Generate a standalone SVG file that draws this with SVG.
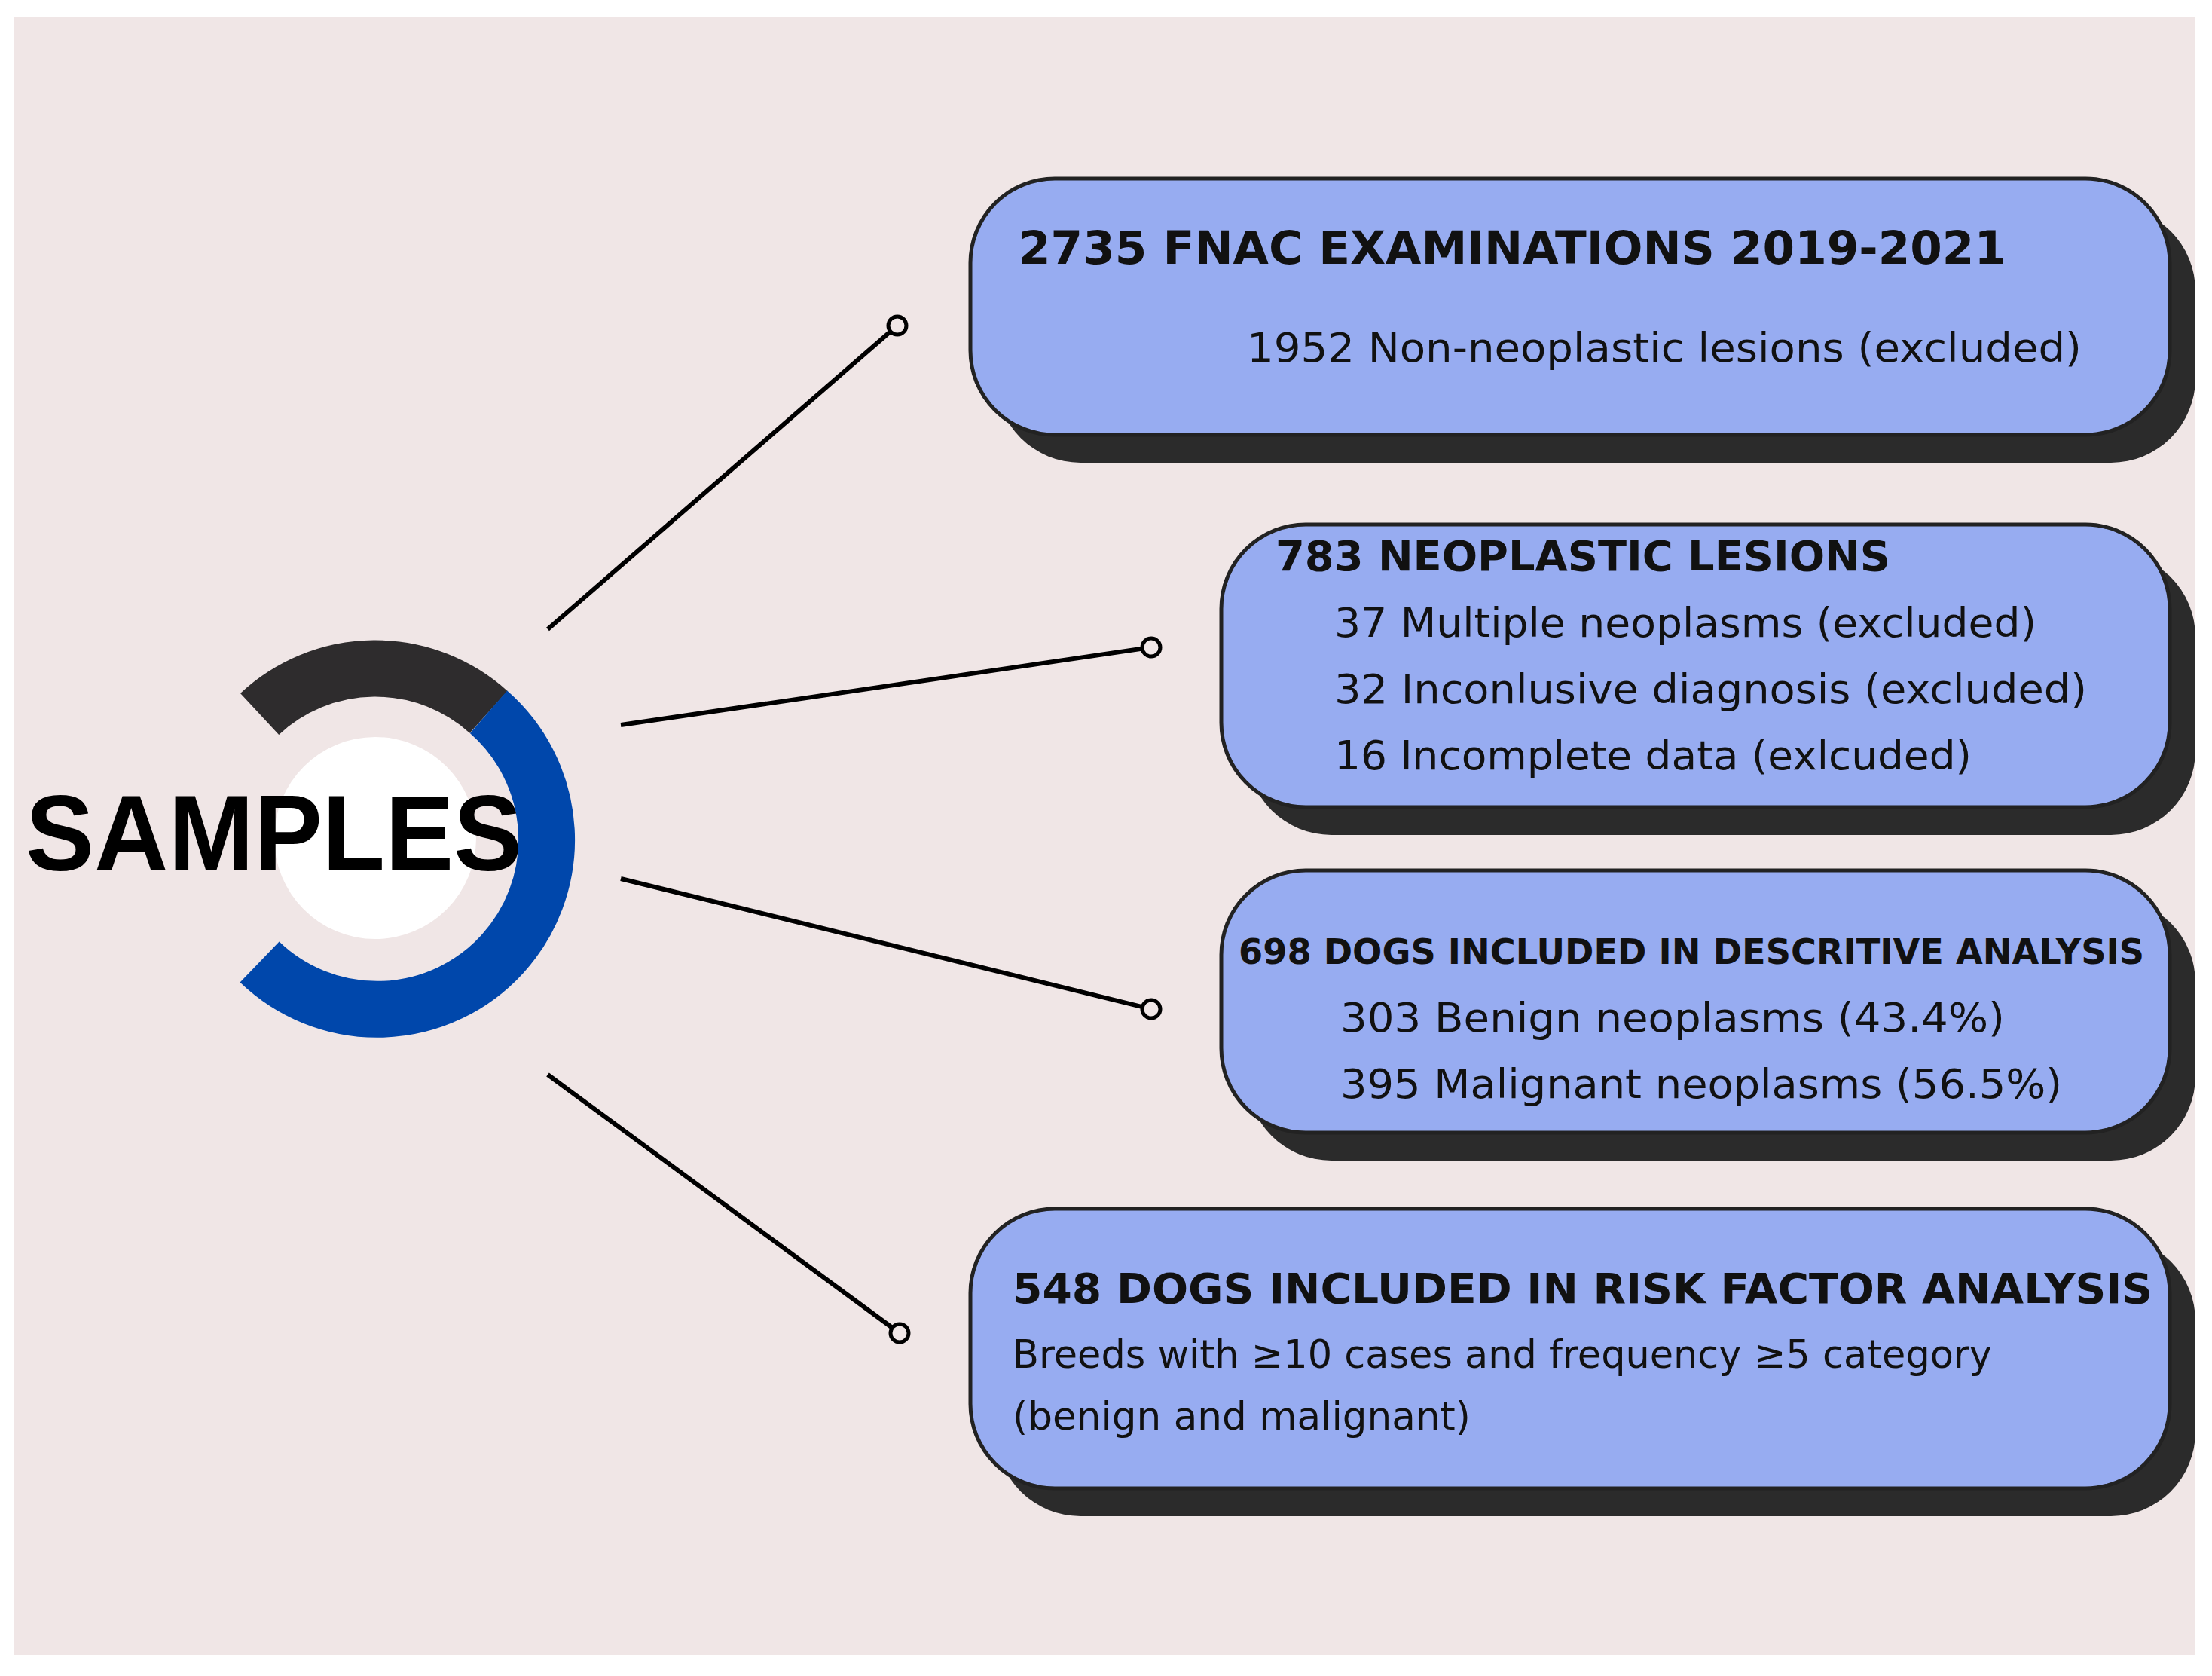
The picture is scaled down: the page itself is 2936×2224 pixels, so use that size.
<svg xmlns="http://www.w3.org/2000/svg" width="2936" height="2224" viewBox="0 0 2936 2224">
<style>
.sh{fill:#2b2b2b}
.bx{fill:#97acf1;stroke:#222;stroke-width:5}
.t{font-family:"DejaVu Sans",sans-serif;font-weight:bold;fill:#111}
.s{font-family:"DejaVu Sans",sans-serif;fill:#111}
.ln{stroke:#000;stroke-width:6;fill:none}
.dot{fill:#f0e6e6;stroke:#000;stroke-width:5}
</style>
<rect width="2936" height="2224" fill="#fff"/>
<rect x="19" y="22" width="2894" height="2174" fill="#f0e6e6"/>
<g id="samples">
<path d="M344.6 947.5 A225 225 0 0 1 648.5 944.8" stroke="#2e2c2d" stroke-width="75" fill="none"/>
<path d="M648.5 944.8 A225 225 0 1 1 344.6 1276.5" stroke="#0047ab" stroke-width="75" fill="none"/>
<circle cx="498" cy="1112" r="134" fill="#fff"/>
<text x="34" y="1155" font-family="Liberation Sans,Arial,sans-serif" font-weight="bold" font-size="143" textLength="659" lengthAdjust="spacingAndGlyphs">SAMPLES</text>
</g>
<g id="connectors">
<line class="ln" x1="727" y1="835" x2="1191" y2="432"/><circle class="dot" cx="1191" cy="432" r="12"/>
<line class="ln" x1="824" y1="962" x2="1528" y2="859"/><circle class="dot" cx="1528" cy="859" r="12"/>
<line class="ln" x1="824" y1="1166" x2="1528" y2="1339"/><circle class="dot" cx="1528" cy="1339" r="12"/>
<line class="ln" x1="727" y1="1426" x2="1194" y2="1769"/><circle class="dot" cx="1194" cy="1769" r="12"/>
</g>
<g id="box1">
<rect class="sh" x="1322" y="274" width="1592" height="340" rx="112"/>
<rect class="bx" x="1288" y="237" width="1592" height="340" rx="112"/>
<text class="t" x="1352" y="350" font-size="60" textLength="1311" lengthAdjust="spacingAndGlyphs">2735 FNAC EXAMINATIONS 2019-2021</text>
<text class="s" x="1655" y="480" font-size="54" textLength="1108" lengthAdjust="spacingAndGlyphs">1952 Non-neoplastic lesions (excluded)</text>
</g>
<g id="box2">
<rect class="sh" x="1655" y="733" width="1259" height="375" rx="112"/>
<rect class="bx" x="1621" y="696" width="1259" height="375" rx="112"/>
<text class="t" x="1693" y="757" font-size="56" textLength="816" lengthAdjust="spacingAndGlyphs">783 NEOPLASTIC LESIONS</text>
<text class="s" x="1771" y="845" font-size="54" textLength="932" lengthAdjust="spacingAndGlyphs">37 Multiple neoplasms (excluded)</text>
<text class="s" x="1771" y="933" font-size="54" textLength="999" lengthAdjust="spacingAndGlyphs">32 Inconlusive diagnosis (excluded)</text>
<text class="s" x="1771" y="1021" font-size="54" textLength="846" lengthAdjust="spacingAndGlyphs">16 Incomplete data (exlcuded)</text>
</g>
<g id="box3">
<rect class="sh" x="1655" y="1192" width="1259" height="348" rx="112"/>
<rect class="bx" x="1621" y="1155" width="1259" height="348" rx="112"/>
<text class="t" x="1644" y="1279" font-size="46" textLength="1202" lengthAdjust="spacingAndGlyphs">698 DOGS INCLUDED IN DESCRITIVE ANALYSIS</text>
<text class="s" x="1779" y="1369" font-size="54" textLength="882" lengthAdjust="spacingAndGlyphs">303 Benign neoplasms (43.4%)</text>
<text class="s" x="1779" y="1457" font-size="54" textLength="958" lengthAdjust="spacingAndGlyphs">395 Malignant neoplasms (56.5%)</text>
</g>
<g id="box4">
<rect class="sh" x="1322" y="1641" width="1592" height="371" rx="112"/>
<rect class="bx" x="1288" y="1604" width="1592" height="371" rx="112"/>
<text class="t" x="1344" y="1729" font-size="56" textLength="1513" lengthAdjust="spacingAndGlyphs">548 DOGS INCLUDED IN RISK FACTOR ANALYSIS</text>
<text class="s" x="1344" y="1815" font-size="52" textLength="1300" lengthAdjust="spacingAndGlyphs">Breeds with ≥10 cases and frequency ≥5 category</text>
<text class="s" x="1344" y="1897" font-size="52" textLength="608" lengthAdjust="spacingAndGlyphs">(benign and malignant)</text>
</g>
</svg>
